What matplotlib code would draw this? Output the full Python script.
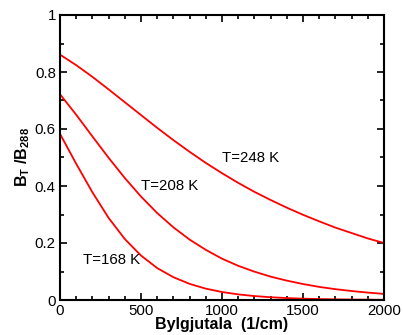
import matplotlib
matplotlib.use("Agg")
import matplotlib.pyplot as plt
from matplotlib.ticker import MultipleLocator

plt.rcParams['font.family'] = ['Liberation Sans', 'DejaVu Sans']
plt.rcParams['mathtext.fontset'] = 'custom'
plt.rcParams['mathtext.rm'] = 'Liberation Sans'
plt.rcParams['mathtext.it'] = 'Liberation Sans:italic'
plt.rcParams['mathtext.bf'] = 'Liberation Sans:bold'

wavenumber = [0, 100, 200, 300, 400, 500, 600, 700, 800, 900, 1000,
              1100, 1200, 1300, 1400, 1500, 1600, 1700, 1800, 1900, 2000]
ratio_248 = [0.861, 0.824, 0.783, 0.739, 0.694, 0.649, 0.604, 0.561, 0.520, 0.481, 0.445,
             0.411, 0.3795, 0.351, 0.324, 0.299, 0.276, 0.254, 0.235, 0.216, 0.200]
ratio_208 = [0.722, 0.650, 0.574, 0.499, 0.428, 0.363, 0.305, 0.255, 0.212, 0.176, 0.145,
             0.120, 0.0995, 0.082, 0.068, 0.056, 0.046, 0.038, 0.0315, 0.026, 0.0214]
ratio_168 = [0.583, 0.478, 0.378, 0.288, 0.214, 0.156, 0.112, 0.080, 0.0566, 0.0398, 0.028,
             0.0197, 0.0138, 0.0097, 0.0068, 0.0047, 0.0033, 0.0023, 0.0016, 0.0011, 0.0008]
labels = ["T=248 K", "T=208 K", "T=168 K"]
label_pos = [(1000, 0.50), (500, 0.40), (140, 0.14)]

fig = plt.figure(figsize=(4.03, 3.35), dpi=100)
ax = fig.add_axes([60/403, 1-300/335, 324/403, 285/335])

for ys in (ratio_248, ratio_208, ratio_168):
    ax.plot(wavenumber, ys, color='#ff0000', lw=1.3)

for t, (x, y) in zip(labels, label_pos):
    ax.text(x, y, t, fontsize=10.8, va='center', ha='left')

ax.set_xlim(0, 2000)
ax.set_ylim(0, 1)
ax.xaxis.set_major_locator(MultipleLocator(500))
ax.xaxis.set_minor_locator(MultipleLocator(100))
ax.yaxis.set_minor_locator(MultipleLocator(0.1))
ax.set_yticks([0, 0.2, 0.4, 0.6, 0.8, 1])
ax.set_yticklabels(['0', '0.2', '0.4', '0.6', '0.8', '1'])
ax.tick_params(which='both', direction='in', top=True, right=True, labelsize=10.8, width=1.2)
ax.tick_params(which='major', length=5, pad=3)
ax.tick_params(which='minor', length=3)
for s in ax.spines.values():
    s.set_linewidth(1.5)

ax.set_xlabel('Bylgjutala  (1/cm)', fontsize=11.5, fontweight='bold', labelpad=-1)
ax.set_ylabel(r'$\mathbf{B_T\ /B_{288}}$', fontsize=11.5, labelpad=2)

fig.savefig('out.png', dpi=100)
